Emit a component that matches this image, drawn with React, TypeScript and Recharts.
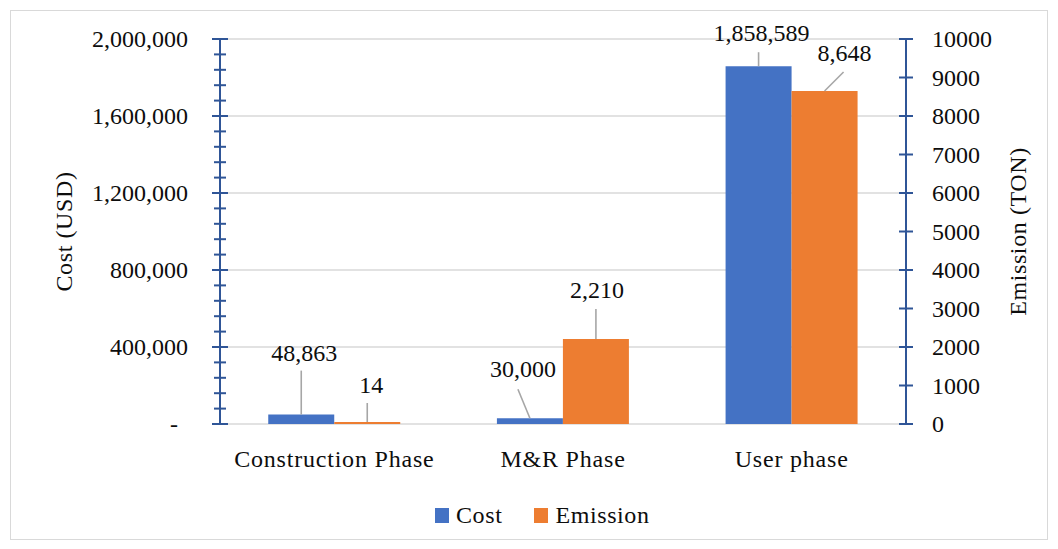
import React from 'react';
import { BarChart, Bar, XAxis, YAxis, CartesianGrid, Legend, LabelList, Label } from 'recharts';

// ---- data ----
const categories = ['Construction Phase', 'M&R Phase', 'User phase'];
const costValues = [48863, 30000, 1858589];
const emissionValues = [14, 2210, 8648];
const costMajorTicks = [0, 400000, 800000, 1200000, 1600000, 2000000];
const costMinorStep = 80000;
const emissionTicks = [0, 1000, 2000, 3000, 4000, 5000, 6000, 7000, 8000, 9000, 10000];
const seriesNames = ['Cost', 'Emission'];

const costTicks: number[] = [];
for (let v = 0; v <= 2000000; v += costMinorStep) costTicks.push(v);

const data = categories.map((name, i) => ({ name, cost: costValues[i], emission: emissionValues[i] }));

// ---- style ----
const FONT = '"Liberation Serif", "Times New Roman", serif';
const FS = 24;
const TEXT = '#0d0d0d';
const AXIS_BLUE = '#2F5597';
const GRID = '#d9d9d9';
const LEADER = '#a6a6a6';
const COST_COLOR = '#4472C4';
const EMIS_COLOR = '#ED7D31';

// label placement (relative to bar top centre): text centre (tx,ty), leader end (lx,ly)
const costLabelPos = [
  { tx: 3, ty: -62, lx: 0, ly: -44 },
  { tx: -7, ty: -49, lx: -12, ly: -29 },
  { tx: 3, ty: -33, lx: 0, ly: -14 },
];
const emisLabelPos = [
  { tx: 4, ty: -37, lx: 0, ly: -19 },
  { tx: 1, ty: -49, lx: 0, ly: -30 },
  { tx: 20, ty: -38, lx: 19, ly: -19 },
];

const fmt = (v: number) => v.toLocaleString('en-US');

const LeftTick = (props: any) => {
  const { x, y, payload } = props;
  const v = payload.value;
  const major = costMajorTicks.includes(v);
  const half = major ? 8 : 6;
  return (
    <g>
      <line x1={x - half} x2={x + half} y1={y} y2={y} stroke={AXIS_BLUE} strokeWidth={2} />
      {major && (
        <text x={v === 0 ? x - 42 : x - 32} y={y} dy={8} textAnchor="end" fontFamily={FONT} fontSize={FS} fill={TEXT}>
          {v === 0 ? '-' : fmt(v)}
        </text>
      )}
    </g>
  );
};

const RightTick = (props: any) => {
  const { x, y, payload } = props;
  return (
    <g>
      <line x1={x - 7} x2={x + 7} y1={y} y2={y} stroke={AXIS_BLUE} strokeWidth={2} />
      <text x={x + 26} y={y} dy={8} textAnchor="start" fontFamily={FONT} fontSize={FS} fill={TEXT}>
        {String(payload.value)}
      </text>
    </g>
  );
};

const BottomTick = (props: any) => {
  const { x, y, payload } = props;
  return (
    <text x={x} y={y + 43} textAnchor="middle" fontFamily={FONT} fontSize={FS} fill={TEXT} letterSpacing={0.8}>
      {payload.value}
    </text>
  );
};

const makeLabel = (pos: { tx: number; ty: number; lx: number; ly: number }[]) => (props: any) => {
  const vb = props.viewBox || props;
  const x = Number(vb.x ?? props.x);
  const y = Number(vb.y ?? props.y);
  const w = Number(vb.width ?? props.width);
  const idx = props.index ?? 0;
  const p = pos[idx];
  if (!p) return null;
  const cx = x + w / 2;
  return (
    <g>
      <line x1={cx} y1={y} x2={cx + p.lx} y2={y + p.ly} stroke={LEADER} strokeWidth={1.6} />
      <text x={cx + p.tx} y={y + p.ty} dy={8} textAnchor="middle" fontFamily={FONT} fontSize={FS} fill={TEXT}>
        {fmt(Number(props.value))}
      </text>
    </g>
  );
};

const LegendContent = () => (
  <div
    style={{
      height: 36,
      display: 'flex',
      alignItems: 'center',
      paddingLeft: 435,
      fontFamily: FONT,
      fontSize: FS,
      color: TEXT,
      letterSpacing: 0.6,
      boxSizing: 'border-box',
    }}
  >
    <span style={{ width: 14, height: 15, background: COST_COLOR, display: 'inline-block', marginRight: 7 }} />
    <span style={{ marginRight: 32 }}>{seriesNames[0]}</span>
    <span style={{ width: 14, height: 15, background: EMIS_COLOR, display: 'inline-block', marginRight: 7 }} />
    <span>{seriesNames[1]}</span>
  </div>
);

const axisTitle = (text: string, dxFromAxisX: (vb: any) => number) => (p: any) => {
  const vb = p.viewBox || {};
  const cx = dxFromAxisX(vb);
  const cy = vb.y + vb.height / 2;
  return (
    <text
      x={cx}
      y={cy}
      transform={`rotate(-90 ${cx} ${cy})`}
      textAnchor="middle"
      dominantBaseline="central"
      fontFamily={FONT}
      fontSize={FS}
      fill={TEXT}
      letterSpacing={0.6}
    >
      {text}
    </text>
  );
};

export default function App() {
  return (
    <div style={{ position: 'absolute', left: 0, top: 0, width: 1058, height: 549, background: '#fff' }}>
      <div
        style={{
          position: 'absolute',
          left: 10,
          top: 10,
          width: 1038,
          height: 530,
          border: '1px solid #d9d9d9',
          boxSizing: 'border-box',
        }}
      />
      <div style={{ position: 'absolute', left: 0, top: 0 }}>
        <BarChart
          width={1058}
          height={549}
          data={data}
          margin={{ top: 39, right: 0, left: 0, bottom: 16 }}
          barCategoryGap="21.1%"
          barGap={0}
        >
          <CartesianGrid
            vertical={false}
            yAxisId="left"
            horizontalValues={costMajorTicks}
            stroke={GRID}
            strokeWidth={1.4}
          />
          <XAxis
            dataKey="name"
            height={73}
            axisLine={false}
            tickLine={false}
            tickSize={0}
            tickMargin={0}
            interval={0}
            tick={<BottomTick />}
          />
          <YAxis
            yAxisId="left"
            orientation="left"
            width={220}
            domain={[0, 2000000]}
            ticks={costTicks}
            interval={0}
            tickSize={0}
            tickMargin={0}
            tickLine={false}
            axisLine={{ stroke: AXIS_BLUE, strokeWidth: 2 }}
            tick={<LeftTick />}
          >
            <Label value="Cost (USD)" content={axisTitle('Cost (USD)', (vb) => vb.x + vb.width - 156)} />
          </YAxis>
          <YAxis
            yAxisId="right"
            orientation="right"
            width={152}
            domain={[0, 10000]}
            ticks={emissionTicks}
            interval={0}
            tickSize={0}
            tickMargin={0}
            tickLine={false}
            axisLine={{ stroke: AXIS_BLUE, strokeWidth: 2 }}
            tick={<RightTick />}
          >
            <Label value="Emission (TON)" content={axisTitle('Emission (TON)', (vb) => vb.x + 112)} />
          </YAxis>
          <Legend verticalAlign="bottom" align="left" content={<LegendContent />} />
          <Bar dataKey="cost" name={seriesNames[0]} yAxisId="left" fill={COST_COLOR} isAnimationActive={false}>
            <LabelList dataKey="cost" content={makeLabel(costLabelPos)} />
          </Bar>
          <Bar
            dataKey="emission"
            name={seriesNames[1]}
            yAxisId="right"
            fill={EMIS_COLOR}
            minPointSize={2}
            isAnimationActive={false}
          >
            <LabelList dataKey="emission" content={makeLabel(emisLabelPos)} />
          </Bar>
        </BarChart>
      </div>
    </div>
  );
}
